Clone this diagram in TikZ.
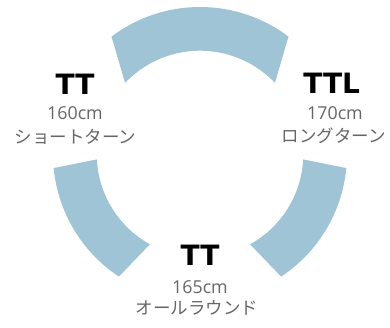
\documentclass[tikz,border=0pt]{standalone}
\usepackage{fontspec}
\setmainfont{Open Sans}
\newfontfamily\cjk{Noto Sans CJK JP}
\newfontfamily\heavy{DejaVu Sans}
\definecolor{segblue}{HTML}{9EC4D6}
\definecolor{labgray}{HTML}{666666}
\tikzset{
  seg/.style={fill=segblue, draw=none},
  model/.style={inner sep=0pt, anchor=base, font=\heavy\bfseries\fontsize{28pt}{28pt}\selectfont, text=black},
  size/.style={inner sep=0pt, anchor=base, font=\fontsize{17.8pt}{17.8pt}\selectfont, text=labgray},
  kind/.style={inner sep=0pt, anchor=center, font=\cjk\fontsize{17.5pt}{17.5pt}\selectfont, text=labgray}
}
\begin{document}
\begin{tikzpicture}[x=1pt,y=1pt]
\useasboundingbox (0,0) rectangle (390,327);
\fill[white] (0,0) rectangle (390,327);
\coordinate (c) at (200,173);
% top segment
\fill[seg, shift={(200pt,173pt)}] (53:147pt) arc[start angle=53, end angle=127, radius=147pt]
  -- (136.5:103.3pt) arc[start angle=136.5, end angle=43.5, radius=103.3pt] -- cycle;
% bottom-left segment
\fill[seg, shift={(200pt,173pt)}] (185.5:147pt) arc[start angle=185.5, end angle=236.5, radius=147pt]
  -- (241:103.3pt) arc[start angle=241, end angle=183, radius=103.3pt] -- cycle;
% bottom-right segment
\fill[seg, shift={(200pt,173pt)}] (-56.5:147pt) arc[start angle=-56.5, end angle=-5.5, radius=147pt]
  -- (-3:103.3pt) arc[start angle=-3, end angle=-61, radius=103.3pt] -- cycle;
% left label
\node[model] (lm) at (75,232.7) {TT};
\node[size] (ls) at (75,207.7) {160cm};
\node[kind] (lk) at (75.5,190.5) {ショートターン};
% right label
\node[model] (rm) at (331.7,233) {TTL};
\node[size] (rs) at (335,207.7) {170cm};
\node[kind] (rk) at (334,191.5) {ロングターン};
% bottom label
\node[model] (bm) at (200,62) {TT};
\node[size] (bs) at (200,34) {165cm};
\node[kind] (bk) at (197,19.5) {オールラウンド};
\end{tikzpicture}
\end{document}
